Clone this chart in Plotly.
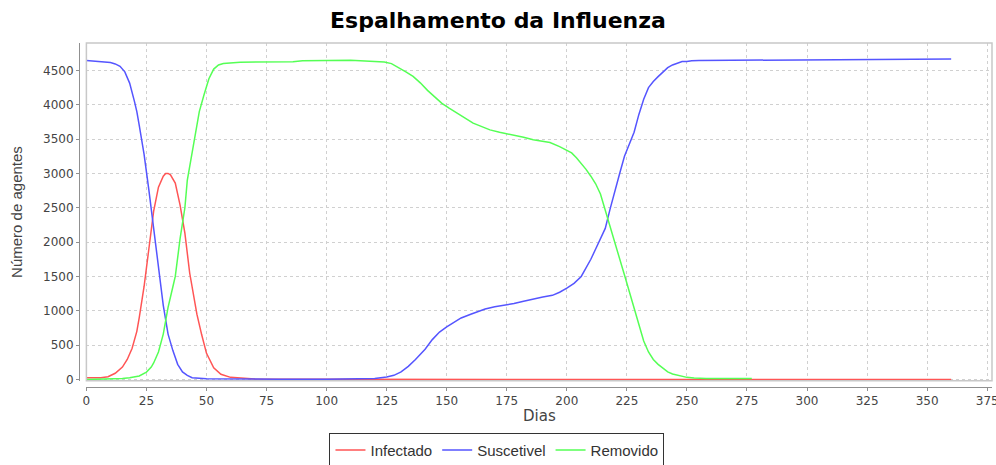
import plotly.graph_objects as go

# ---- data ----
inf_days = [0, 6, 9, 12, 15, 17, 19, 21, 22, 24, 26, 28, 30, 32, 33, 34, 35, 37, 39, 41, 43, 46, 48,
            50, 53, 56, 60, 65, 70, 80, 100, 360]
inf_vals = [25, 25, 40, 90, 180, 290, 450, 700, 900, 1350, 1900, 2450, 2800, 2960, 3000, 3000, 2980,
            2860, 2540, 2130, 1550, 950, 650, 380, 170, 75, 30, 15, 8, 3, 1, 0]

sus_days = [0, 5, 10, 12, 14, 16, 18, 20, 21, 22, 24, 26, 28, 30, 32, 34, 36, 38, 40, 42, 44, 50, 60,
            80, 100, 115, 120, 125, 128, 131, 134, 137, 141, 144, 147, 150, 153, 156, 160, 163, 166,
            170, 175, 178, 182, 186, 190, 194, 197, 200, 203, 206, 208, 210, 212, 214, 216, 218, 220,
            222, 224, 226, 228, 230, 232, 234, 236, 238, 240, 242, 244, 246, 248, 250, 252, 255, 270,
            277, 280, 300, 330, 360]
sus_vals = [4645, 4625, 4615, 4595, 4560, 4480, 4316, 4050, 3900, 3700, 3280, 2760, 2180, 1620, 1080,
            660, 420, 220, 110, 60, 25, 10, 5, 3, 2, 5, 15, 34, 60, 110, 190, 290, 440, 580, 690, 764,
            830, 895, 950, 990, 1025, 1060, 1090, 1105, 1140, 1175, 1200, 1225, 1270, 1330, 1400, 1500,
            1620, 1750, 1900, 2040, 2200, 2480, 2760, 3000, 3250, 3420, 3600, 3860, 4080, 4250, 4340,
            4410, 4480, 4540, 4580, 4610, 4630, 4632, 4642, 4645, 4648, 4650, 4660, 4662, 4664, 4667]

rem_days = [0, 10, 15, 18, 22, 25, 27, 28, 30, 32, 34, 36, 37, 39, 41, 42, 43, 44, 46, 47, 49, 50, 51,
            53, 55, 57, 60, 64, 86, 90, 110, 117, 124, 127, 130, 133, 136, 139, 142, 145, 148, 151,
            154, 158, 161, 165, 168, 172, 175, 179, 182, 186, 190, 193, 197, 200, 202, 204, 206, 208,
            210, 212, 214, 216, 218, 220, 222, 224, 226, 228, 230, 232, 234, 236, 238, 240, 242, 244,
            247, 250, 253, 258, 270, 277]
rem_vals = [0, 5, 15, 25, 50, 107, 180, 240, 400, 660, 1050, 1350, 1500, 2050, 2500, 2900, 3100, 3350,
            3700, 3900, 4150, 4267, 4380, 4520, 4580, 4600, 4612, 4620, 4628, 4640, 4647, 4630, 4623,
            4600, 4545, 4480, 4414, 4320, 4210, 4110, 4020, 3950, 3880, 3800, 3733, 3680, 3635, 3600,
            3577, 3555, 3528, 3490, 3465, 3450, 3391, 3340, 3300, 3230, 3150, 3060, 2960, 2850, 2700,
            2470, 2230, 1980, 1750, 1520, 1280, 1030, 780, 560, 400, 290, 220, 160, 110, 80, 50, 30,
            20, 15, 15, 15]

series_names = ["Infectado", "Suscetivel", "Removido"]
series_colors = ["#ff5555", "#5555ff", "#55ff55"]

x_ticks = list(range(0, 376, 25))
y_ticks = list(range(0, 4501, 500))

fig = go.Figure()
for name, color, xs, ys in zip(series_names, series_colors,
                               [inf_days, sus_days, rem_days],
                               [inf_vals, sus_vals, rem_vals]):
    fig.add_trace(go.Scatter(x=xs, y=ys, mode="lines", name=name,
                             line=dict(color=color, width=1.5)))

WIDE = "DejaVu Sans, Verdana, sans-serif"
ARIAL = "Liberation Sans, Arial, sans-serif"
fig.update_layout(
    width=996, height=465,
    margin=dict(l=79, r=4, t=43, b=78, autoexpand=False),
    paper_bgcolor="white", plot_bgcolor="white",
    font=dict(family=WIDE, color="#444444"),
    title=dict(text="<b>Espalhamento da Influenza</b>", x=0.5, xref="container",
               xanchor="center", y=0.957, yanchor="middle",
               font=dict(family=WIDE, size=22, color="black")),
    xaxis=dict(domain=[0.0081, 1], range=[0, 377], anchor="free", position=0,
               tickvals=x_ticks, showgrid=True, gridcolor="#d0d0d0", griddash="dot",
               gridwidth=1, zeroline=False, showline=True, linecolor="#909090",
               linewidth=1, ticks="outside", ticklen=3, tickcolor="#909090",
               ticklabeloverflow="allow",
               tickfont=dict(family=WIDE, size=12, color="#444444"), automargin=False),
    yaxis=dict(domain=[0.018, 1], range=[-20, 4900], anchor="free", position=0,
               tickvals=y_ticks, showgrid=True, gridcolor="#d0d0d0", griddash="dot",
               gridwidth=1, zeroline=False, showline=True, linecolor="#909090",
               linewidth=1, ticks="outside", ticklen=3, tickcolor="#909090",
               tickfont=dict(family=WIDE, size=12, color="#444444"), automargin=False),
    legend=dict(orientation="h", x=0.4578, xanchor="center", y=-0.184, yanchor="middle",
                bordercolor="#333333", borderwidth=1, font=dict(family=ARIAL, size=15, color="#333333"),
                itemwidth=30, tracegroupgap=0, bgcolor="white"),
    showlegend=True,
)
fig.add_shape(type="rect", xref="x domain", yref="y domain", x0=0, x1=1, y0=0, y1=1,
              line=dict(color="#c8c8c8", width=1.5), layer="above")
# axis titles
fig.add_annotation(text="Dias", xref="x domain", yref="paper", x=0.5, y=-(416 - 386.7) / 344,
                   xanchor="center", yanchor="middle", showarrow=False,
                   font=dict(family=WIDE, size=15, color="#444444"))
fig.add_annotation(text="Número de agentes", xref="paper", yref="y domain",
                   x=-(79 - 17) / 913, y=0.5, textangle=-90, xanchor="center", yanchor="middle",
                   showarrow=False, font=dict(family=ARIAL, size=15, color="#444444"))

fig.write_html("out.html", config={"displayModeBar": False},
               post_script="document.body.style.margin='0';")
